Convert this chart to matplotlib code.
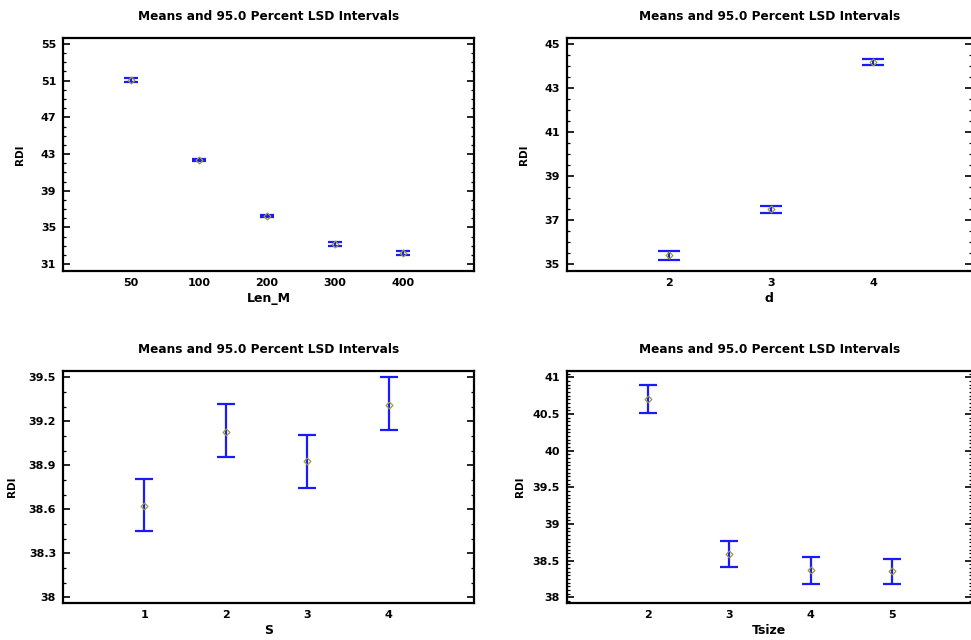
import matplotlib
matplotlib.use("Agg")
import matplotlib.pyplot as plt
from matplotlib.ticker import AutoMinorLocator, FixedLocator

plt.rcParams['font.family'] = ['DejaVu Sans']
plt.rcParams['font.weight'] = 'bold'

TITLE = "Means and 95.0 Percent LSD Intervals"

# Len_M panel
len_labels = ["50", "100", "200", "300", "400"]
len_means = [51.1, 42.35, 36.2, 33.2, 32.2]
len_low = [50.9, 42.2, 36.1, 33.0, 32.0]
len_high = [51.3, 42.5, 36.3, 33.4, 32.4]

# d panel
d_labels = ["2", "3", "4"]
d_means = [35.42, 37.5, 44.18]
d_low = [35.22, 37.35, 44.05]
d_high = [35.6, 37.64, 44.35]

# S panel
s_labels = ["1", "2", "3", "4"]
s_means = [38.625, 39.127, 38.927, 39.313]
s_low = [38.45, 38.955, 38.745, 39.14]
s_high = [38.81, 39.316, 39.105, 39.5]

# Tsize panel
t_labels = ["2", "3", "4", "5"]
t_means = [40.7, 38.59, 38.37, 38.36]
t_low = [40.52, 38.42, 38.18, 38.18]
t_high = [40.89, 38.77, 38.55, 38.53]


def draw_panel(ax, labels, means, low, high, xlabel, xlim, ylim, yticks,
               nminor, capsize, ylabel_x):
    start = 1 if xlim[0] < 0.5 else 2
    pos = list(range(start, start + len(labels)))
    yerr = [[m - lo for m, lo in zip(means, low)], [hi - m for m, hi in zip(means, high)]]
    ax.errorbar(pos, means, yerr=yerr, fmt='none', ecolor='#1a1aff',
                elinewidth=1.6, capsize=capsize, capthick=1.6)
    ax.plot(pos, means, linestyle='none', marker='D', markersize=3.5,
            markerfacecolor='none', markeredgecolor='#9a9a3a', markeredgewidth=0.9)
    ax.set_xlim(*xlim)
    ax.set_ylim(*ylim)
    ax.xaxis.set_major_locator(FixedLocator(pos))
    ax.set_xticklabels(labels)
    ax.yaxis.set_major_locator(FixedLocator(yticks))
    ax.set_yticklabels([("%g" % v) for v in yticks])
    ax.yaxis.set_minor_locator(AutoMinorLocator(nminor))
    ax.tick_params(axis='x', length=0, pad=5, labelsize=8)
    ax.tick_params(axis='y', which='major', direction='in', length=5, width=1.2,
                   left=True, right=True, labelsize=8, pad=5)
    ax.tick_params(axis='y', which='minor', direction='in', length=2.5, width=0.9,
                   left=True, right=True)
    for sp in ax.spines.values():
        sp.set_linewidth(1.6)
    ax.set_title(TITLE, fontsize=8.7, fontweight='bold', pad=13)
    ax.set_xlabel(xlabel, fontsize=9, fontweight='bold', labelpad=3)
    ax.set_ylabel("RDI", fontsize=7.5, fontweight='bold')
    ax.yaxis.set_label_coords(ylabel_x, 0.5)


fig = plt.figure(figsize=(9.71, 6.4), dpi=100)
ax1 = fig.add_axes([0.0649, 0.5766, 0.4233, 0.364])
ax2 = fig.add_axes([0.5836, 0.5766, 0.4175, 0.364])
ax3 = fig.add_axes([0.0649, 0.0573, 0.4233, 0.3635])
ax4 = fig.add_axes([0.5836, 0.0573, 0.4175, 0.3635])

draw_panel(ax1, len_labels, len_means, len_low, len_high, "Len_M",
           (0, 6.05), (30.25, 55.65), [31, 35, 39, 43, 47, 51, 55], 4, 5, -0.092)
draw_panel(ax2, d_labels, d_means, d_low, d_high, "d",
           (1, 4.97), (34.7, 45.29), [35, 37, 39, 41, 43, 45], 4, 8, -0.094)
draw_panel(ax3, s_labels, s_means, s_low, s_high, "S",
           (0, 5.05), (37.96, 39.545), [38, 38.3, 38.6, 38.9, 39.2, 39.5], 3, 6.5, -0.112)
draw_panel(ax4, t_labels, t_means, t_low, t_high, "Tsize",
           (1, 5.98), (37.92, 41.09), [38, 38.5, 39, 39.5, 40, 40.5, 41], 10, 6.5, -0.104)

fig.savefig("out.png", dpi=100)
